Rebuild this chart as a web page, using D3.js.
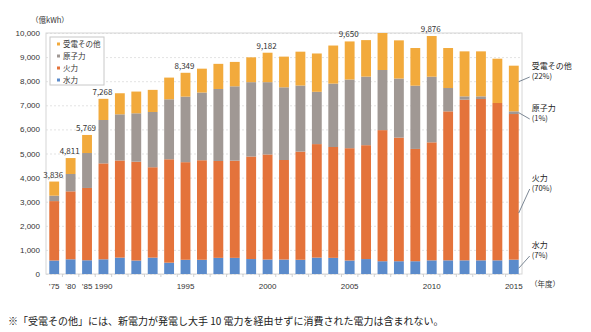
<!DOCTYPE html>
<meta charset="utf-8">
<style>
    body { margin: 0; background: #fff; }
    svg { font-family: "Noto Sans CJK JP", "Noto Sans", sans-serif; }
    .grid line { stroke: #e3e3e3; stroke-dasharray: 2,2; }
    .grid path { display: none; }
    .axis path { display: none; }
    .axis text { fill: #333; font-size: 8px; }
    .note { fill: #222; }
</style>
<svg width="591" height="332"></svg>
<script src="https://cdn.jsdelivr.net/npm/d3@7/dist/d3.min.js"></script>
<script>

    // 年度
    var years = ["1975","1980","1985","1990","1991","1992","1993","1994","1995","1996",
                 "1997","1998","1999","2000","2001","2002","2003","2004","2005","2006",
                 "2007","2008","2009","2010","2011","2012","2013","2014","2015"];
    var yearLabels = ["’75","’80","’85","1990","","","","","1995","",
                      "","","","2000","","","","","2005","",
                      "","","","2010","","","","","2015"];

    // 億kWh
    var hydro   = [560, 610, 570, 610, 680, 560, 680, 470, 590, 590,
                   670, 670, 620, 600, 600, 590, 680, 670, 560, 620,
                   530, 530, 530, 567, 567, 567, 567, 567, 595];
    var thermal = [2465, 2820, 3000, 3980, 4030, 4100, 3750, 4290, 4050, 4130,
                   4020, 4033, 4255, 4360, 4130, 4490, 4710, 4600, 4660, 4725,
                   5440, 5130, 4660, 4896, 6182, 6666, 6694, 6528, 6043];
    var nuclear = [225, 720, 1450, 1800, 1915, 2008, 2293, 2490, 2720, 2810,
                   2987, 3085, 3085, 3000, 3016, 2740, 2170, 2630, 2850, 2845,
                   2495, 2450, 2624, 2724, 968, 138, 110, 0, 111];
    var other   = [586, 661, 749, 878, 875, 902, 917, 900, 989, 990,
                   1043, 1012, 1030, 1222, 1274, 1405, 1590, 1580, 1580, 1515,
                   1535, 1585, 1563, 1689, 1660, 1867, 1867, 1839, 1895];

    var labeledYears = ["1975","1980","1985","1990","1995","2000","2005","2010"];

    var keys = ["hydro", "thermal", "nuclear", "other"];
    var names = {hydro: "水力", thermal: "火力", nuclear: "原子力", other: "受電その他"};
    var colors = {hydro: "#5b8bcb", thermal: "#e4733b", nuclear: "#a09894", other: "#f2aa3c"};

    var data = years.map(function(y, i) {
        return {year: y, hydro: hydro[i], thermal: thermal[i], nuclear: nuclear[i], other: other[i]};
    });

    var svg = d3.select("svg"),
        margin = {top: 33, right: 69, bottom: 58, left: 46},
        width = svg.attr("width") - margin.left - margin.right,
        height = svg.attr("height") - margin.top - margin.bottom,
        g = svg.append("g").attr("transform", "translate(" + margin.left + "," + margin.top + ")");

    var x = d3.scaleBand().domain(years).range([0, width]).paddingInner(0.4).paddingOuter(0.2),
        y = d3.scaleLinear().domain([0, 10000]).range([height, 0]);

    g.append("g")
        .attr("class", "grid")
        .call(d3.axisLeft(y).ticks(10).tickSize(-width).tickFormat(""));

    // frame
    g.append("rect")
        .attr("width", width)
        .attr("height", height)
        .attr("fill", "none")
        .attr("stroke", "#d6d6d6");

    var series = d3.stack().keys(keys)(data);

    g.append("defs").append("clipPath").attr("id", "plot")
        .append("rect").attr("width", width).attr("height", height);

    g.append("g").attr("clip-path", "url(#plot)")
        .selectAll("g")
        .data(series)
        .enter().append("g")
        .attr("fill", function(d) { return colors[d.key]; })
        .selectAll("rect")
        .data(function(d) { return d; })
        .enter().append("rect")
        .attr("x", function(d) { return x(d.data.year); })
        .attr("y", function(d) { return y(d[1]); })
        .attr("height", function(d) { return y(d[0]) - y(d[1]); })
        .attr("width", x.bandwidth());

    // axes
    g.append("g")
        .attr("class", "axis")
        .call(d3.axisLeft(y).ticks(10).tickSize(0).tickPadding(6).tickFormat(d3.format(",")));

    g.append("g")
        .attr("class", "axis")
        .attr("transform", "translate(0," + height + ")")
        .call(d3.axisBottom(x).tickSize(0).tickPadding(9)
            .tickFormat(function(d, i) { return yearLabels[i]; }));

    // small ticks between categories
    g.append("g").selectAll("line")
        .data(years.slice(1))
        .enter().append("line")
        .attr("x1", function(d) { return x(d) - x.step() * x.paddingInner() / 2; })
        .attr("x2", function(d) { return x(d) - x.step() * x.paddingInner() / 2; })
        .attr("y1", height)
        .attr("y2", height + 3)
        .attr("stroke", "#cfcfcf");

    // totals
    g.append("g").selectAll("text")
        .data(data.filter(function(d) { return labeledYears.indexOf(d.year) >= 0; }))
        .enter().append("text")
        .attr("x", function(d) { return x(d.year) + x.bandwidth() / 2 - 1; })
        .attr("y", function(d) { return y(d.hydro + d.thermal + d.nuclear + d.other) - 4; })
        .attr("text-anchor", "middle")
        .style("font-size", "8px")
        .attr("fill", "#333")
        .text(function(d) { return d3.format(",")(d.hydro + d.thermal + d.nuclear + d.other); });

    // units
    svg.append("text").attr("x", 31).attr("y", 23).style("font-size", "7.5px").attr("fill", "#333").text("（億kWh）");
    svg.append("text").attr("x", 530).attr("y", 287).style("font-size", "7.5px").attr("fill", "#333").text("（年度）");

    // legend
    var legend = g.append("g").attr("transform", "translate(4,4)");
    legend.append("rect")
        .attr("width", 54).attr("height", 48)
        .attr("fill", "#fff").attr("stroke", "#c8c8c8");
    var li = legend.selectAll(".li")
        .data(keys.slice().reverse())
        .enter().append("g")
        .attr("transform", function(d, i) { return "translate(7," + (7 + i * 12) + ")"; });
    li.append("rect").attr("y", -1.5).attr("width", 3).attr("height", 3)
        .attr("fill", function(d) { return colors[d]; });
    li.append("text").attr("x", 6).attr("dy", "0.35em")
        .style("font-size", "7.5px").attr("fill", "#333")
        .text(function(d) { return names[d]; });

    // shares for the last year
    var last = data[data.length - 1],
        lastTotal = last.hydro + last.thermal + last.nuclear + last.other,
        lx = x(last.year) + x.bandwidth();
    var notes = [
        {key: "other", ty: 36, from: last.hydro + last.thermal + last.nuclear + last.other * 0.65},
        {key: "nuclear", ty: 78, from: last.hydro + last.thermal + last.nuclear * 0.5},
        {key: "thermal", ty: 148, from: last.hydro + last.thermal * 0.32},
        {key: "hydro", ty: 215, from: last.hydro * 0.4}
    ];
    var note = g.append("g").selectAll("g").data(notes).enter().append("g");
    note.append("line")
        .attr("x1", lx).attr("y1", function(d) { return y(d.from); })
        .attr("x2", lx + 11).attr("y2", function(d) { return d.ty + 8; })
        .attr("stroke", "#5a6a7a").attr("stroke-width", 0.8);
    note.append("text").attr("class", "note")
        .attr("x", lx + 13).attr("y", function(d) { return d.ty; })
        .style("font-size", "8px")
        .text(function(d) { return names[d.key]; });
    note.append("text").attr("class", "note")
        .attr("x", lx + 13).attr("y", function(d) { return d.ty + 10; })
        .style("font-size", "7.5px")
        .text(function(d) { return "(" + Math.round(last[d.key] / lastTotal * 100) + "%)"; });

    svg.append("text")
        .attr("x", 8).attr("y", 325)
        .style("font-size", "10px").attr("fill", "#222")
        .text("※「受電その他」には、新電力が発電し大手 10 電力を経由せずに消費された電力は含まれない。");

</script>
